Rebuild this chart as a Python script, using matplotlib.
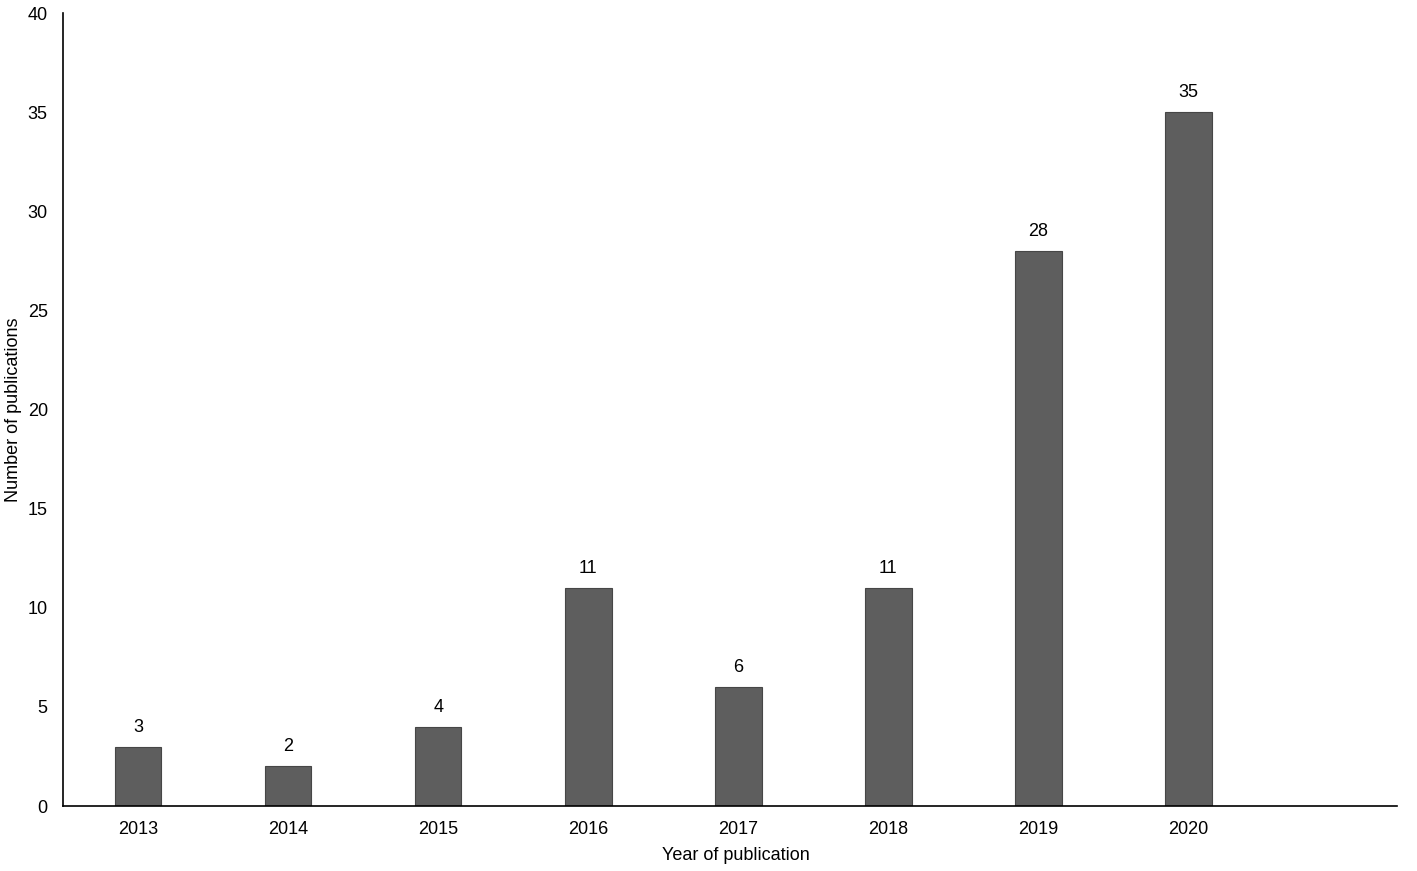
import matplotlib.pyplot as plt

plt.rcParams['font.family'] = ['Liberation Sans', 'DejaVu Sans']

years = ['2013', '2014', '2015', '2016', '2017', '2018', '2019', '2020']
counts = [3, 2, 4, 11, 6, 11, 28, 35]

fig = plt.figure(figsize=(14.17, 8.71), dpi=100)
ax = fig.add_axes([0.0445, 0.0746, 0.9415, 0.9104])

x = range(len(years))
ax.bar(x, counts, width=0.31, color='#5e5e5e', edgecolor='#464646', linewidth=0.8)
for xi, c in zip(x, counts):
    ax.text(xi, c + 0.55, str(c), ha='center', va='bottom', fontsize=13)

ax.set_xlim(-0.5, 8.39)
ax.set_ylim(0, 40)
ax.set_yticks(range(0, 41, 5))
ax.set_xticks(list(x))
ax.set_xticklabels(years)
ax.tick_params(axis='both', length=0, labelsize=13)
ax.tick_params(axis='x', pad=11)
ax.tick_params(axis='y', pad=11)

for s in ['top', 'right']:
    ax.spines[s].set_visible(False)
ax.spines['left'].set_linewidth(1.2)
ax.spines['bottom'].set_linewidth(1.2)

ax.set_xlabel('Year of publication', fontsize=13)
ax.xaxis.set_label_coords(0.5045, -0.062)
ax.xaxis.label.set_va('center')
ax.set_ylabel('Number of publications', fontsize=13, va='center')
ax.yaxis.set_label_coords(-0.037, 0.5)

fig.savefig('out.png', dpi=100)
